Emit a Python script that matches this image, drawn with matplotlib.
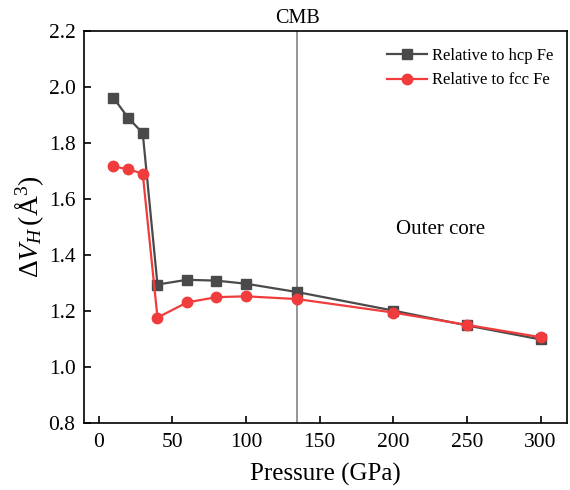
import matplotlib
matplotlib.use("Agg")
import matplotlib.pyplot as plt

plt.rcParams['font.family'] = ['Liberation Serif', 'DejaVu Serif']
plt.rcParams['mathtext.fontset'] = 'custom'
plt.rcParams['mathtext.rm'] = 'Liberation Serif'
plt.rcParams['mathtext.it'] = 'Liberation Serif:italic'

# Data
pressure = [10, 20, 30, 40, 60, 80, 100, 135, 200, 250, 300]
dv_hcp = [1.962, 1.890, 1.835, 1.294, 1.311, 1.308, 1.297, 1.267, 1.201, 1.148, 1.098]
dv_fcc = [1.716, 1.706, 1.690, 1.176, 1.230, 1.249, 1.252, 1.242, 1.194, 1.150, 1.106]
cmb_pressure = 135

fig = plt.figure(figsize=(5.7, 4.9), dpi=100)
ax = fig.add_axes([0.147, 0.137, 0.848, 0.800])

ax.axvline(cmb_pressure, color='#8c8c8c', lw=1.3, zorder=1)
ax.plot(pressure, dv_hcp, '-s', color='#4a4a4a', ms=6.5, lw=1.6,
        label='Relative to hcp Fe', zorder=3)
ax.plot(pressure, dv_fcc, '-o', color='#f03c3c', ms=7.5, lw=1.6,
        label='Relative to fcc Fe', zorder=4)

ax.set_xlim(-10, 318)
ax.set_ylim(0.8, 2.2)
ax.set_xticks([0, 50, 100, 150, 200, 250, 300])
ax.set_yticks([0.8, 1.0, 1.2, 1.4, 1.6, 1.8, 2.0, 2.2])
ax.set_yticklabels(['0.8', '1.0', '1.2', '1.4', '1.6', '1.8', '2.0', '2.2'])
ax.tick_params(direction='in', labelsize=15.5, length=5, width=1.2)
ax.tick_params(axis='y', pad=6)
ax.tick_params(axis='x', pad=7)
for s in ax.spines.values():
    s.set_linewidth(1.2)

ax.set_xlabel('Pressure (GPa)', fontsize=18, labelpad=8)
ax.set_ylabel(r'$\mathit{Δ}V_H\,(\mathrm{Å}^3)$', fontsize=20, labelpad=2)

ax.text(cmb_pressure, 2.21, 'CMB', ha='center', va='bottom', fontsize=14.5)
ax.text(232, 1.49, 'Outer core', ha='center', va='center', fontsize=15)

ax.legend(loc='upper right', frameon=False, fontsize=12,
          handlelength=2.4, handletextpad=0.3,
          bbox_to_anchor=(1.0, 0.99), borderaxespad=0.4)

fig.savefig('out.png', dpi=100)
